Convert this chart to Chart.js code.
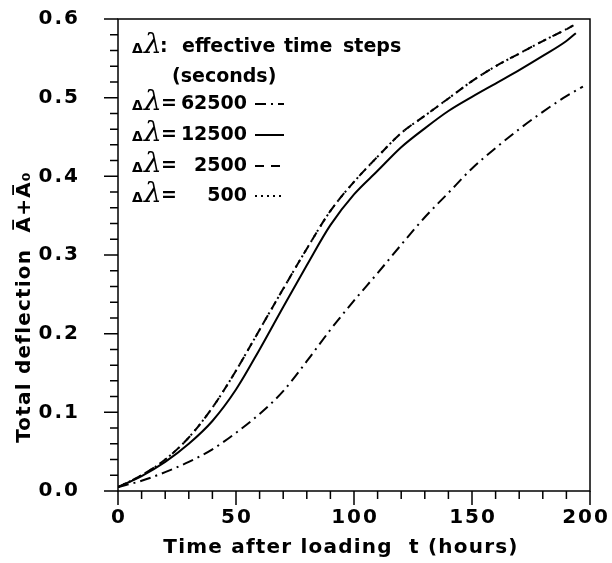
<!DOCTYPE html>
<html><head><meta charset="utf-8">
<script src="https://cdn.jsdelivr.net/npm/chart.js@4"></script>
<style>html,body{margin:0;padding:0;background:#fff}#wrap{width:612px;height:563px;position:relative}</style>
</head><body><div id="wrap"><canvas id="c"></canvas></div>
<script>
// ---- data ----
const xTickLabels = [0, 50, 100, 150, 200];
const yTickLabels = ['0.0', '0.1', '0.2', '0.3', '0.4', '0.5', '0.6'];
const legendLabels = ['62500', '12500', '2500', '500'];

const t62500 = [0,10,20,30,40,50,60,70,80,90,100,110,120,130,140,150,160,170,180,190,197];
const v62500 = [0.005,0.013,0.024,0.037,0.053,0.074,0.098,0.127,0.165,0.205,0.242,0.277,0.313,0.348,0.379,0.410,0.436,0.460,0.482,0.502,0.514];

const t12500 = [0,10,20,30,40,50,60,70,80,90,100,110,120,130,140,150,160,170,180,190,194];
const v12500 = [0.005,0.019,0.037,0.060,0.089,0.129,0.180,0.234,0.287,0.338,0.377,0.407,0.437,0.461,0.483,0.501,0.518,0.535,0.553,0.572,0.582];

const t2500 = [0,10,20,30,40,50,60,70,80,90,100,110,120,130,140,150,160,170,180,190,193];
const v2500 = [0.005,0.020,0.040,0.068,0.106,0.153,0.205,0.257,0.308,0.356,0.393,0.425,0.455,0.477,0.499,0.521,0.540,0.556,0.572,0.587,0.592];

const t500 = [0,10,20,30,40,50,60,70,80,90,100,110,120,130,140,150,160,170,180,190,193];
const v500 = [0.005,0.020,0.040,0.068,0.106,0.153,0.205,0.257,0.308,0.356,0.393,0.425,0.455,0.477,0.499,0.521,0.540,0.556,0.572,0.587,0.592];

const pts = (t, v) => t.map((x, i) => ({x, y: v[i]}));
const FONT = '"DejaVu Sans", sans-serif';
const dashes = {
  '62500': [11, 5, 2, 5],
  '12500': [],
  '2500': [9, 7],
  '500': [2, 4]
};

const frame = {
  id: 'frame',
  afterDraw(chart) {
    const {ctx, chartArea: a, scales: {x, y}} = chart;
    ctx.save();
    ctx.strokeStyle = '#000';
    ctx.lineWidth = 1.5;
    ctx.strokeRect(a.left, a.top, a.right - a.left, a.bottom - a.top);
    // ticks (outside)
    ctx.beginPath();
    for (let t = 0; t <= 200; t += 10) {
      const px = x.getPixelForValue(t);
      const len = (t % 50 === 0) ? 14 : 8;
      ctx.moveTo(px, a.bottom); ctx.lineTo(px, a.bottom + len);
    }
    for (let k = 0; k <= 30; k++) {
      const py = y.getPixelForValue(k * 0.02);
      const len = (k % 5 === 0) ? 14 : 8;
      ctx.moveTo(a.left, py); ctx.lineTo(a.left - len, py);
    }
    ctx.stroke();
    // tick labels
    ctx.fillStyle = '#000';
    ctx.font = 'bold 20px ' + FONT;
    ctx.letterSpacing = '2px';
    ctx.textAlign = 'center'; ctx.textBaseline = 'middle';
    xTickLabels.forEach(v => {
      let px = x.getPixelForValue(v);
      if (v === 200) px -= 5;
      ctx.fillText(String(v), px + 1, a.bottom + 27);
    });
    ctx.textAlign = 'right';
    yTickLabels.forEach(s => ctx.fillText(s, a.left - 38, y.getPixelForValue(parseFloat(s))));
    // axis titles
    ctx.letterSpacing = '1.2px';
    ctx.textAlign = 'center';
    ctx.fillText('Time after loading  t (hours)', 341, 548);
    ctx.save();
    ctx.translate(25, 307);
    ctx.rotate(-Math.PI / 2);
    ctx.fillText('Total deflection  A\u0305+A\u0305\u2080', 0, 0);
    ctx.restore();
    ctx.letterSpacing = '0px';
    // legend
    const lam = (xx, yy) => {
      ctx.textAlign = 'left';
      ctx.font = 'bold 14px ' + FONT;
      ctx.fillText('\u0394', xx, yy + 2);
      ctx.font = 'italic 28px "DejaVu Serif", serif';
      ctx.fillText('\u03bb', xx + 12, yy - 1);
    };
    lam(132, 47);
    ctx.font = 'bold 19px ' + FONT;
    ctx.fillText(':', 160, 47);
    ctx.fillText('effective', 182, 47);
    ctx.fillText('time', 284, 47);
    ctx.fillText('steps', 343, 47);
    ctx.fillText('(seconds)', 172, 77);
    const rows = [104, 135, 166, 196];
    legendLabels.forEach((lbl, i) => {
      lam(132, rows[i]);
      ctx.font = 'bold 19px ' + FONT;
      ctx.textAlign = 'left';
      ctx.fillText('=', 161, rows[i]);
      ctx.textAlign = 'right';
      ctx.fillText(lbl, 247, rows[i]);
      ctx.beginPath();
      ctx.setLineDash(dashes[lbl]);
      ctx.lineWidth = 2;
      ctx.moveTo(255, rows[i]); ctx.lineTo(284, rows[i]);
      ctx.stroke();
      ctx.setLineDash([]);
    });
    ctx.restore();
  }
};

const ds = (label, t, v) => ({
  label, data: pts(t, v), borderColor: '#000', borderWidth: 2,
  borderDash: dashes[label], pointRadius: 0, fill: false,
  cubicInterpolationMode: 'monotone'
});

new Chart(document.getElementById('c'), {
  type: 'line',
  data: {
    datasets: [
      ds('62500', t62500, v62500),
      ds('12500', t12500, v12500),
      ds('2500', t2500, v2500),
      ds('500', t500, v500)
    ]
  },
  options: {
    responsive: true, maintainAspectRatio: false, animation: false,
    layout: {padding: {top: 19, right: 22, left: 0, bottom: 0}},
    plugins: {legend: {display: false}, tooltip: {enabled: false}},
    scales: {
      x: {
        type: 'linear', min: 0, max: 200,
        grid: {display: false, drawTicks: false}, border: {display: false},
        ticks: {display: false},
        afterFit: s => { s.height = 72; }
      },
      y: {
        type: 'linear', min: 0, max: 0.6,
        grid: {display: false, drawTicks: false}, border: {display: false},
        ticks: {display: false},
        afterFit: s => { s.width = 118; }
      }
    }
  },
  plugins: [frame]
});
</script></body></html>
